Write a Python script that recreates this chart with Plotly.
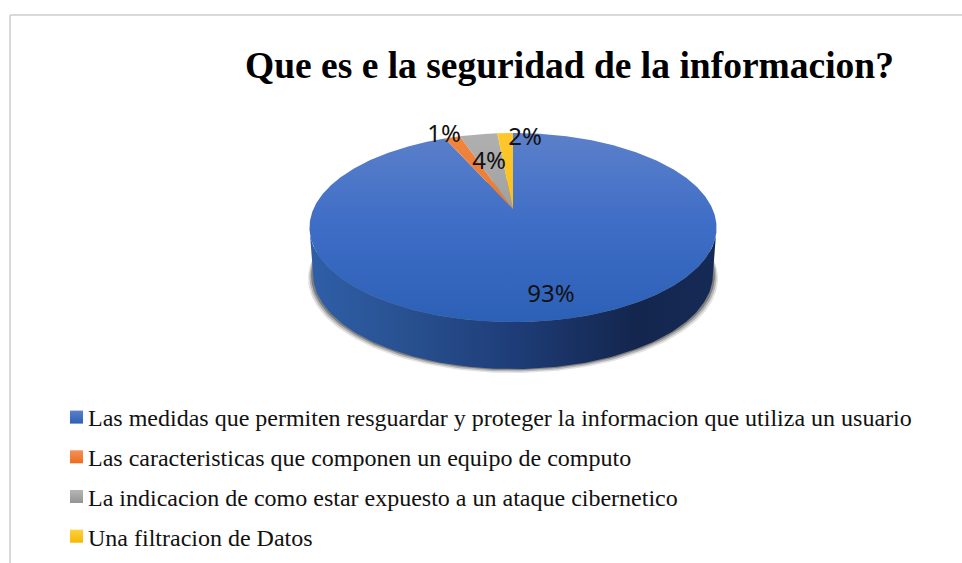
import numpy as np
import plotly.graph_objects as go

# ---- data ----
title = "Que es e la seguridad de la informacion?"
categories = [
    "Las medidas que permiten resguardar y proteger la informacion que utiliza un usuario",
    "Las caracteristicas que componen un equipo de computo",
    "La indicacion de como estar expuesto a un ataque cibernetico",
    "Una filtracion de Datos",
]
values = [93.41, 1.49, 3.6, 1.5]   # slice shares; labels show them rounded

# ---- style and placement ----
slice_gradients = [
    [(0, "#2c60b6"), (0.5, "#3e6dc6"), (1, "#5b80ca")],
    [(0, "#ec7a30"), (1, "#f0853f")],
    [(0, "#a0a0a0"), (1, "#b0b0b0")],
    [(0, "#fbc018"), (1, "#ffc72c")],
]
legend_colors = [("#5b80ca", "#2c60b6"), ("#f4915a", "#ee6c1e"), ("#b5b5b5", "#949494"), ("#ffd040", "#f5b800")]
wall_gradient = [(0, "#2f5fa8"), (0.25, "#28508f"), (0.5, "#1e3d78"), (0.8, "#14264e"), (1, "#152a56")]
label_xy = [(551, 296), (444, 136), (489, 163), (525, 139)]
W, H = 962, 563
CX, APEX_Y, R, A, K = 513, 209, 199.6, 90.9, 0.196   # perspective disc
DEPTH, BOTTOM_SCALE = 47, 0.982


def rim(theta_deg, shift=0.0, scale=1.0):
    """Project a disc rim angle (clockwise from the back) to the plot."""
    t = np.radians(theta_deg)
    s, c = np.sin(t), np.cos(t)
    d = 1 + K * c
    return CX + scale * R * s / d, APEX_Y - A * c / d + shift


fig = go.Figure()

# soft ground shadow
for grow, alpha in [(5, 0.15), (3.5, 0.28), (2, 0.45)]:
    th = np.linspace(0, 360, 241)
    x, y = rim(th, DEPTH + grow - 1, BOTTOM_SCALE + grow / 200)
    fig.add_trace(go.Scatter(x=x, y=y, mode="lines", line_width=0, fill="toself",
                             fillcolor=f"rgba(60,60,60,{alpha})", showlegend=False, hoverinfo="skip"))

# side wall (front half)
wide = np.degrees(np.arccos(-K))
th = np.linspace(wide, 360 - wide, 181)
xt, yt = rim(th)
xb, yb = rim(th[::-1], DEPTH, BOTTOM_SCALE)
fig.add_trace(go.Scatter(x=np.r_[xt, xb], y=np.r_[yt, yb], mode="lines", line_width=0, fill="toself",
                         fillgradient=dict(type="horizontal", colorscale=wall_gradient),
                         showlegend=False, hoverinfo="skip"))

# top face: slices run clockwise, first slice starts at the top
start = 0.0
total = sum(values)
for name, v, grad in zip(categories, values, slice_gradients):
    sweep = 360.0 * v / total
    th = np.linspace(start, start + sweep, max(3, int(sweep * 2)))
    x, y = rim(th)
    fig.add_trace(go.Scatter(x=np.r_[CX, x, CX], y=np.r_[APEX_Y, y, APEX_Y], mode="lines", line_width=0,
                             fill="toself", fillgradient=dict(type="vertical", colorscale=grad),
                             name=name, showlegend=False, hoverinfo="name"))
    start += sweep

# percentage labels
fig.add_trace(go.Scatter(x=[p[0] for p in label_xy], y=[p[1] for p in label_xy], mode="text",
                         text=[f"{round(v)}%" for v in values],
                         textfont=dict(family="Noto Sans", size=24, color="#111111"),
                         showlegend=False, hoverinfo="skip"))

# legend entries
for name, (c1, c2) in zip(categories, legend_colors):
    fig.add_trace(go.Scatter(x=[None], y=[None], mode="markers", name=name, legendgroup=name,
                             marker=dict(symbol="square", size=13, color=c1,
                                         gradient=dict(type="vertical", color=c2))))

frame = dict(color="#d9d9d9", width=2)
fig.update_layout(
    width=W, height=H, margin=dict(l=0, r=0, t=0, b=0, autoexpand=False),
    paper_bgcolor="white", plot_bgcolor="white",
    xaxis=dict(range=[0, W], visible=False, fixedrange=True),
    yaxis=dict(range=[H, 0], visible=False, fixedrange=True),
    title=dict(text=f"<b>{title}</b>", x=569.5 / W, xanchor="center", y=1 - 65 / H, yanchor="middle",
               font=dict(family="Liberation Serif", size=37.5, color="black")),
    legend=dict(x=48 / W, y=1 - 395 / H, xanchor="left", yanchor="top", orientation="v",
                font=dict(family="Liberation Serif", size=24, color="#111111"),
                tracegroupgap=5.5, bgcolor="rgba(0,0,0,0)", traceorder="grouped"),
    shapes=[
        dict(type="line", xref="paper", yref="paper", x0=10 / W, x1=10 / W, y0=0, y1=1 - 15 / H, line=frame),
        dict(type="line", xref="paper", yref="paper", x0=10 / W, x1=1, y0=1 - 15 / H, y1=1 - 15 / H, line=frame),
    ],
)
post = """
document.body.style.margin = '0';
document.querySelectorAll('.legendsymbols').forEach(function (g) {
  g.setAttribute('transform', 'translate(8.5,0)');
});
"""
fig.write_html("out.html", config=dict(displayModeBar=False), post_script=post)
